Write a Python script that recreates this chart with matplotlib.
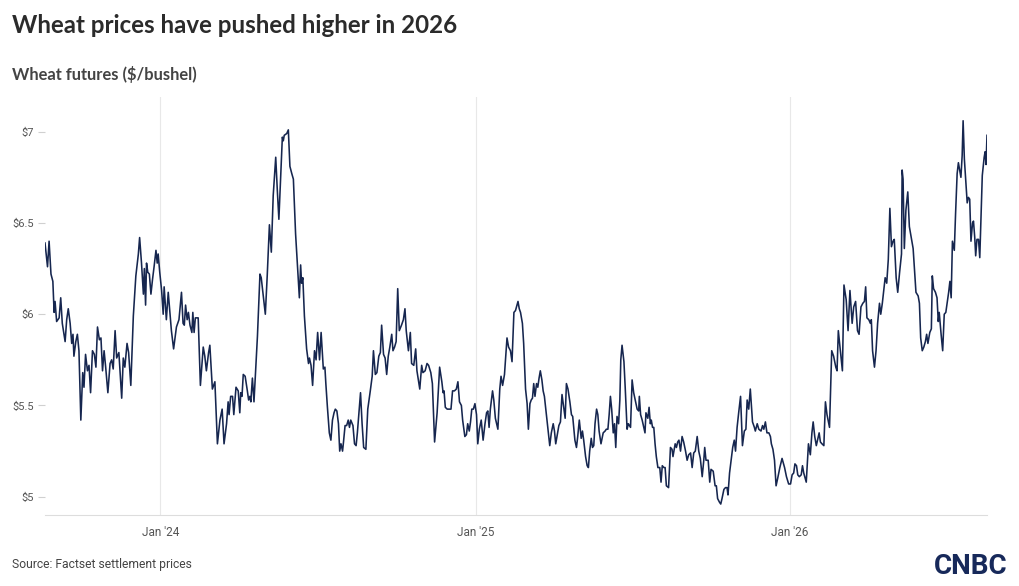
import matplotlib
matplotlib.use("Agg")
import matplotlib.pyplot as plt
import pandas as pd

# (fraction of the year, settlement price in $/bushel)
wheat_2023 = [
    (.633, 6.39), (.641, 6.26), (.646, 6.40), (.652, 6.22), (.658, 6.18), (.662, 6.01),
    (.665, 6.07), (.670, 5.96), (.678, 5.98), (.683, 6.09), (.688, 5.95), (.697, 5.85),
    (.702, 5.97), (.707, 6.03), (.713, 5.95), (.718, 5.84), (.722, 5.89), (.725, 5.77),
    (.731, 5.85), (.736, 5.89), (.741, 5.80), (.747, 5.42), (.753, 5.68), (.757, 5.60),
    (.762, 5.78), (.768, 5.69), (.773, 5.72), (.778, 5.57), (.784, 5.80), (.790, 5.78),
    (.795, 5.71), (.800, 5.93), (.806, 5.86), (.811, 5.87), (.816, 5.69), (.821, 5.80),
    (.826, 5.71), (.833, 5.57), (.840, 5.73), (.845, 5.75), (.850, 5.70), (.856, 5.91),
    (.861, 5.76), (.868, 5.79), (.877, 5.54), (.882, 5.76), (.887, 5.71), (.894, 5.84),
    (.899, 5.79), (.906, 5.61), (.914, 5.99), (.922, 6.21), (.930, 6.33), (.934, 6.42),
    (.940, 6.28), (.946, 6.11), (.949, 6.25), (.953, 6.05), (.956, 6.28), (.960, 6.23),
    (.965, 6.22), (.970, 6.11), (.975, 6.19), (.980, 6.26), (.986, 6.35), (.990, 6.28),
    (.993, 6.33), (.998, 6.23),
]

wheat_2024 = [
    (.004, 6.13), (.009, 6.00), (.012, 6.15), (.019, 5.97), (.025, 6.12), (.035, 5.91),
    (.042, 5.81), (.051, 5.93), (.059, 5.97), (.067, 6.12), (.072, 5.95), (.076, 5.94),
    (.080, 6.05), (.085, 5.97), (.089, 6.01), (.094, 5.94), (.100, 5.90), (.103, 6.01),
    (.107, 5.90), (.111, 5.98), (.120, 5.98), (.127, 5.61), (.136, 5.82), (.141, 5.77),
    (.146, 5.69), (.153, 5.79), (.157, 5.83), (.161, 5.71), (.165, 5.59), (.173, 5.63),
    (.181, 5.29), (.189, 5.42), (.196, 5.48), (.202, 5.29), (.210, 5.40), (.215, 5.52),
    (.218, 5.45), (.223, 5.55), (.229, 5.55), (.233, 5.45), (.240, 5.60), (.247, 5.58),
    (.252, 5.46), (.255, 5.57), (.259, 5.55), (.263, 5.67), (.269, 5.66), (.276, 5.58),
    (.280, 5.53), (.284, 5.55), (.287, 5.52), (.292, 5.65), (.297, 5.52), (.302, 5.68),
    (.308, 5.88), (.316, 6.22), (.320, 6.20), (.333, 6.00), (.339, 6.21), (.346, 6.49),
    (.352, 6.34), (.358, 6.65), (.366, 6.86), (.371, 6.68), (.376, 6.52), (.382, 6.77),
    (.387, 6.97), (.390, 6.95), (.393, 6.98), (.401, 6.99), (.406, 7.01), (.411, 6.81),
    (.417, 6.77), (.422, 6.74), (.429, 6.44), (.436, 6.24), (.441, 6.09), (.445, 6.27),
    (.448, 6.17), (.452, 6.20), (.457, 5.99), (.464, 5.81), (.470, 5.73), (.473, 5.76),
    (.478, 5.72), (.483, 5.61), (.489, 5.80), (.494, 5.75), (.499, 5.90), (.505, 5.75),
    (.510, 5.90), (.517, 5.70), (.522, 5.71), (.525, 5.62), (.530, 5.49), (.536, 5.35),
    (.541, 5.31), (.546, 5.42), (.551, 5.46), (.555, 5.48), (.560, 5.47), (.565, 5.40),
    (.569, 5.25), (.573, 5.29), (.578, 5.25), (.581, 5.30), (.586, 5.39), (.591, 5.39),
    (.596, 5.42), (.600, 5.38), (.604, 5.42), (.611, 5.39), (.616, 5.29), (.621, 5.28),
    (.625, 5.35), (.632, 5.50), (.635, 5.57), (.640, 5.40), (.645, 5.27), (.652, 5.26),
    (.658, 5.48), (.666, 5.58), (.672, 5.66), (.676, 5.80), (.682, 5.67), (.687, 5.68),
    (.693, 5.77), (.698, 5.79), (.702, 5.94), (.708, 5.78), (.713, 5.76), (.718, 5.67),
    (.723, 5.77), (.728, 5.82), (.734, 5.89), (.738, 5.80), (.743, 5.82), (.748, 5.85),
    (.753, 6.14), (.758, 5.91), (.765, 5.94), (.771, 5.97), (.776, 6.03), (.780, 5.91),
    (.787, 5.80), (.793, 5.90), (.797, 5.73), (.804, 5.72), (.810, 5.81), (.814, 5.69),
    (.823, 5.59), (.829, 5.72), (.833, 5.68), (.840, 5.69), (.846, 5.73), (.851, 5.72),
    (.858, 5.68), (.863, 5.62), (.870, 5.30), (.878, 5.46), (.886, 5.71), (.893, 5.63),
    (.897, 5.57), (.900, 5.58), (.904, 5.49), (.910, 5.48), (.917, 5.48), (.922, 5.48),
    (.927, 5.58), (.933, 5.58), (.939, 5.59), (.944, 5.63), (.949, 5.52), (.955, 5.50),
    (.959, 5.42), (.966, 5.33), (.971, 5.34), (.975, 5.40), (.980, 5.36), (.984, 5.41),
    (.988, 5.48), (.993, 5.48), (.998, 5.51),
]

wheat_2025 = [
    (.003, 5.45), (.007, 5.29), (.012, 5.37), (.018, 5.42), (.024, 5.31), (.030, 5.40),
    (.035, 5.46), (.039, 5.47), (.043, 5.38), (.047, 5.48), (.054, 5.58), (.058, 5.53),
    (.063, 5.43), (.071, 5.37), (.077, 5.59), (.081, 5.66), (.086, 5.61), (.092, 5.67),
    (.096, 5.77), (.100, 5.87), (.105, 5.82), (.111, 5.80), (.116, 5.74), (.122, 6.01),
    (.127, 6.02), (.132, 6.05), (.135, 6.07), (.139, 6.03), (.143, 6.01), (.149, 5.95),
    (.153, 5.84), (.159, 5.59), (.164, 5.51), (.168, 5.37), (.173, 5.51), (.177, 5.53),
    (.181, 5.54), (.185, 5.62), (.189, 5.55), (.194, 5.62), (.198, 5.60), (.202, 5.65),
    (.206, 5.69), (.211, 5.64), (.215, 5.58), (.219, 5.55), (.224, 5.47), (.230, 5.37),
    (.236, 5.28), (.241, 5.35), (.247, 5.40), (.251, 5.36), (.255, 5.29), (.259, 5.33),
    (.265, 5.39), (.270, 5.41), (.275, 5.56), (.281, 5.48), (.285, 5.43), (.289, 5.62),
    (.294, 5.59), (.300, 5.52), (.305, 5.45), (.309, 5.44), (.316, 5.31), (.321, 5.27),
    (.325, 5.33), (.330, 5.42), (.336, 5.32), (.340, 5.36), (.344, 5.31), (.350, 5.22),
    (.355, 5.17), (.359, 5.16), (.363, 5.25), (.368, 5.32), (.372, 5.27), (.376, 5.28),
    (.380, 5.40), (.385, 5.48), (.389, 5.45), (.393, 5.36), (.399, 5.29), (.406, 5.35),
    (.412, 5.36), (.416, 5.37), (.421, 5.37), (.425, 5.45), (.429, 5.55), (.433, 5.48),
    (.438, 5.35), (.442, 5.40), (.446, 5.27), (.450, 5.44), (.455, 5.40), (.459, 5.53),
    (.462, 5.75), (.466, 5.83), (.472, 5.74), (.476, 5.60), (.482, 5.37), (.486, 5.40),
    (.493, 5.38), (.498, 5.64), (.503, 5.57), (.509, 5.52), (.514, 5.48), (.519, 5.47),
    (.521, 5.55), (.525, 5.45), (.530, 5.42), (.535, 5.38), (.539, 5.35), (.542, 5.46),
    (.548, 5.43), (.552, 5.49), (.556, 5.40), (.559, 5.42), (.563, 5.38), (.567, 5.38),
    (.571, 5.29), (.575, 5.22), (.580, 5.16), (.586, 5.16), (.590, 5.08), (.594, 5.17),
    (.599, 5.16), (.603, 5.16), (.607, 5.06), (.614, 5.05), (.620, 5.27), (.625, 5.26),
    (.628, 5.22), (.635, 5.29), (.639, 5.27), (.643, 5.30), (.647, 5.31), (.652, 5.25),
    (.657, 5.33), (.662, 5.30), (.668, 5.25), (.673, 5.20), (.678, 5.23), (.684, 5.24),
    (.689, 5.16), (.694, 5.24), (.699, 5.25), (.705, 5.33), (.710, 5.25), (.715, 5.21),
    (.721, 5.11), (.726, 5.20), (.729, 5.27), (.733, 5.20), (.740, 5.20), (.745, 5.08),
    (.749, 5.15), (.756, 5.14), (.762, 5.06), (.766, 5.06), (.770, 4.99), (.776, 4.97),
    (.780, 4.96), (.784, 4.99), (.790, 5.04), (.795, 5.05), (.800, 5.05), (.803, 5.01),
    (.808, 5.13), (.813, 5.20), (.818, 5.27), (.823, 5.31), (.827, 5.25), (.832, 5.38),
    (.837, 5.46), (.843, 5.55), (.849, 5.28), (.855, 5.36), (.860, 5.37), (.864, 5.53),
    (.869, 5.48), (.874, 5.59), (.881, 5.41), (.887, 5.38), (.890, 5.36), (.896, 5.40),
    (.901, 5.37), (.908, 5.36), (.913, 5.39), (.917, 5.37), (.922, 5.41), (.927, 5.35),
    (.933, 5.35), (.938, 5.33), (.941, 5.29), (.946, 5.26), (.951, 5.20), (.956, 5.06),
    (.961, 5.10), (.968, 5.16), (.975, 5.21), (.983, 5.16), (.989, 5.11), (.996, 5.07),
]

wheat_2026 = [
    (.002, 5.07), (.007, 5.12), (.012, 5.13), (.016, 5.18), (.021, 5.17), (.025, 5.12),
    (.030, 5.11), (.036, 5.12), (.040, 5.17), (.044, 5.13), (.052, 5.08), (.059, 5.29),
    (.065, 5.23), (.070, 5.35), (.074, 5.41), (.079, 5.33), (.084, 5.28), (.089, 5.32),
    (.093, 5.35), (.097, 5.30), (.102, 5.29), (.108, 5.28), (.113, 5.52), (.118, 5.45),
    (.126, 5.38), (.133, 5.80), (.139, 5.77), (.146, 5.71), (.150, 5.69), (.154, 5.91),
    (.161, 5.79), (.167, 5.69), (.172, 6.16), (.179, 6.08), (.185, 5.91), (.191, 6.13),
    (.198, 5.95), (.203, 6.04), (.209, 6.07), (.215, 5.91), (.220, 5.89), (.226, 6.04),
    (.232, 6.06), (.237, 6.07), (.241, 6.15), (.245, 5.98), (.251, 5.97), (.256, 5.95),
    (.259, 5.97), (.263, 5.80), (.269, 5.71), (.274, 5.80), (.279, 5.95), (.285, 6.06),
    (.289, 6.00), (.294, 6.06), (.298, 6.12), (.303, 6.20), (.308, 6.17), (.313, 6.30),
    (.318, 6.58), (.323, 6.37), (.328, 6.40), (.332, 6.41), (.338, 6.20), (.343, 6.12),
    (.349, 6.23), (.355, 6.33), (.357, 6.79), (.360, 6.74), (.364, 6.36), (.369, 6.57),
    (.375, 6.67), (.380, 6.48), (.385, 6.43), (.392, 6.36), (.397, 6.23), (.401, 6.12),
    (.408, 6.10), (.412, 6.06), (.416, 5.87), (.421, 5.80), (.426, 5.82), (.431, 5.85),
    (.435, 5.89), (.439, 5.84), (.445, 5.90), (.450, 5.92), (.453, 6.21), (.457, 6.14),
    (.463, 6.12), (.468, 6.09), (.472, 5.96), (.475, 6.01), (.481, 5.89), (.486, 5.80),
    (.491, 6.00), (.496, 6.01), (.500, 6.06), (.505, 6.12), (.509, 6.18), (.513, 6.09),
    (.517, 6.40), (.523, 6.35), (.527, 6.55), (.532, 6.77), (.536, 6.83), (.540, 6.79),
    (.544, 6.75), (.548, 6.87), (.551, 7.06), (.555, 6.85), (.559, 6.74), (.564, 6.61),
    (.568, 6.64), (.572, 6.63), (.576, 6.40), (.581, 6.50), (.584, 6.51), (.588, 6.42),
    (.591, 6.32), (.595, 6.41), (.600, 6.41), (.604, 6.31), (.608, 6.53), (.612, 6.76),
    (.618, 6.86), (.621, 6.89), (.624, 6.82), (.627, 6.98),
]

y_ticks = [5, 5.5, 6, 6.5, 7]
y_labels = ["$5", "$5.5", "$6", "$6.5", "$7"]
x_tick_years = [2024, 2025, 2026]
x_labels = ["Jan '24", "Jan '25", "Jan '26"]

TITLE = "Wheat prices have pushed higher in 2026"
SUBTITLE = "Wheat futures ($/bushel)"
SOURCE = "Source: Factset settlement prices"

LINE = "#16264f"
GRID = "#e8e8e8"
TICK_TXT = "#555555"
NARROW = ["Liberation Sans Narrow", "Roboto", "DejaVu Sans"]


def to_series(year, pairs):
    start = pd.Timestamp(year=year, month=1, day=1)
    n_days = 366 if year % 4 == 0 else 365
    dates = [start + pd.Timedelta(days=f * n_days) for f, _ in pairs]
    return dates, [p for _, p in pairs]


dates, prices = [], []
for yr, pairs in [(2023, wheat_2023), (2024, wheat_2024),
                  (2025, wheat_2025), (2026, wheat_2026)]:
    d, p = to_series(yr, pairs)
    dates += d
    prices += p

fig = plt.figure(figsize=(10.2, 5.86), dpi=100)
ax = fig.add_axes([45 / 1020, 1 - 515 / 586, 942 / 1020, 418 / 586])

ax.plot(dates, prices, color=LINE, lw=1.15, solid_joinstyle="round")

ax.set_xlim(dates[0], dates[-1])
ax.set_ylim(4.90, 7.19)

ax.set_yticks(y_ticks)
ax.set_yticklabels(y_labels, family=NARROW, fontsize=8, color=TICK_TXT)
ax.set_xticks([pd.Timestamp(year=y, month=1, day=1) for y in x_tick_years])
ax.set_xticklabels(x_labels, family=NARROW, fontsize=8.5, color=TICK_TXT)
ax.tick_params(axis="y", length=5, width=0.8, color="#d0d0d0", pad=3)
ax.tick_params(axis="x", length=0, pad=8)
ax.grid(axis="x", color=GRID, lw=0.8)
ax.set_axisbelow(True)

for side in ["left", "right", "top"]:
    ax.spines[side].set_visible(False)
ax.spines["bottom"].set_color("#dddddd")
ax.spines["bottom"].set_linewidth(0.8)

fig.text(12 / 1020, 1 - 33 / 586, TITLE, fontsize=17.4, fontweight="bold",
         color="#2b2b2b", family=["Lato", "DejaVu Sans"])
fig.text(12 / 1020, 1 - 80 / 586, SUBTITLE, fontsize=11.9, fontweight="bold",
         color="#444444", family=["Lato", "DejaVu Sans"])
fig.text(12 / 1020, 1 - 568 / 586, SOURCE, fontsize=8.7, color="#444444",
         family=NARROW)
fig.text(1008 / 1020, 1 - 574 / 586, "CNBC", fontsize=20, fontweight="bold",
         color="#17295a", ha="right", family=NARROW)

fig.savefig("out.png", dpi=100)
